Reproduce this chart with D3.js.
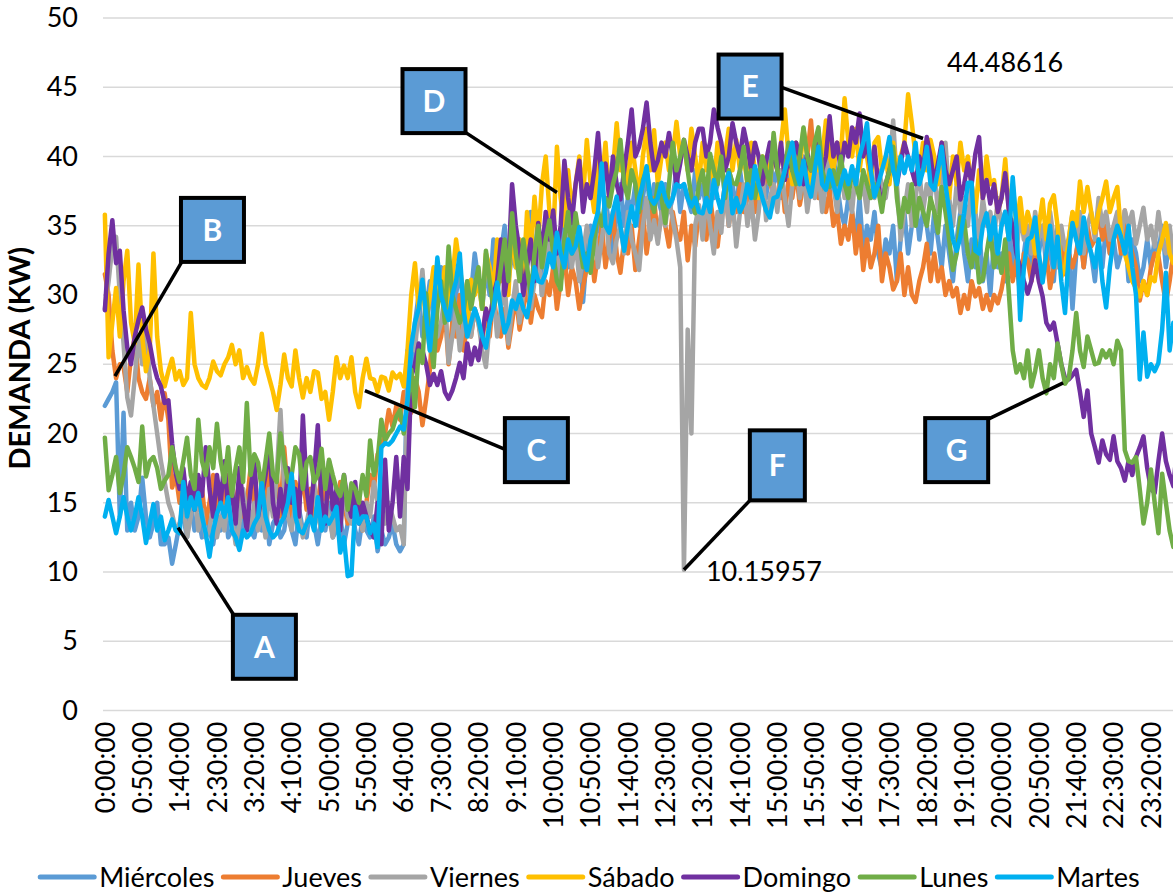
<!DOCTYPE html>
<html><head><meta charset="utf-8">
<script src="https://cdn.jsdelivr.net/npm/d3@7"></script>
<style>
body{margin:0;background:#fff}
svg{display:block}
text{font-family:Lato,"Open Sans",sans-serif}
</style>
</head><body>
<svg id="chart" width="1173" height="892"></svg>
<script>
// ---------- DATA ----------
const seriesNames = ["Miércoles","Jueves","Viernes","Sábado","Domingo","Lunes","Martes"];
const seriesColors = ["#5B9BD5","#ED7D31","#A5A5A5","#FFC000","#7030A0","#70AD47","#00B0F0"];
const yTicks = [0,5,10,15,20,25,30,35,40,45,50];
// categories: 5-minute steps over one day (288)
const times = d3.range(288).map(i => `${Math.floor(i*5/60)}:${String(i*5%60).padStart(2,"0")}:00`);
const labelEvery = 10;

const miercoles = [
22,22.5,23,23.7,14,21.5,13,15,13,14,
16.8,14,12.5,13.5,15,12,12,12.5,10.6,12,
13.5,14,12.5,15,13,14,12.5,14.5,13,12,
14,13,15.5,12.5,13,14,12,13.5,15,13,
12.5,14,13,15,12,13.5,14,12.5,13,15,
13,12,14.5,13,12.5,15,13.5,12,14,13,
15,12.5,13,14,12,13.5,15,13,12,14,
13,12.5,14,11.5,13,12,12.5,13.5,12,11.5,
12,26,24,28,30,27,29,31,28,30,
32,29,31,28,30,32,29,31,30,33,
31,29,32,30,34,31,33,35,31,33,
32,34,31,33,36,32,34,30,33,35,
34,31,33,36,32,35,33,34,29.5,33,
35,33,36,34,37,35,33,36,38,35,
37,36,38,35,37,39,36,38,37,36,
38,36,37,39,36,38,37,36,39,37,
38,36,39,37,38,40,37,39,38,36,
39,37,38,40,37,39,38,37,40,38,
39,37,40,38,39,41,38,40,37,39,
40,38,41,39,37,40,38,36,35,37,
36,34,37,33,35,34,36,33,31.8,34,
33,35,31,34,36,33,35,37,34,36,
35,33,36,34,32,35,33,31,34,36,
33,31,34,32,35,31,33,30,34,32,
33,31,35,32,34,30,33,35,32,34,
33,35,32,34,31,35,33,32,34,29,
33,35,32,34,33,31,34,32,35,33,
34,32,33,35,31,34,33,31,32,34,
32,34,33,35,32,34,33,34];

const jueves = [
31.5,30,26,24,25,24.8,23,25.5,27,24,
23,22.5,24,22,23,21,22.9,21,16.1,17,
15,16.5,14,15.5,17,14.5,16,13.5,15,17,
14,16,15,17,13.5,15,16.5,14,15,17.5,
15,13.5,16,14.5,18.4,15,17,14,19,15.5,
14,16.5,15,17,14.5,16,13.5,15,17,14,
16.5,15,14,16.5,15,13.5,16,14.5,15.5,13,
15,17,16,18.5,19,20,21.7,20.5,22,21,
23,22,21.5,24,23,20.6,22.5,24.6,28.9,26,
27,29,25,28,27,30,26,28,27,29,
28,26.5,29,27,30,28,27,29,26.2,28,
30,27.5,29,31,28,30,29,28.4,31,30,
32,29,31,33,30,32,31,29,30.6,32,
34,31,33,35,32,34,36,33,31.6,34,
33,35,31.8,34,36,33,35,37,34,36,
35,33.5,36,34.5,34,36,32.5,35,33.5,36,
35.4,34,37,35,33.5,36,38,35,37,36,
38,36,37,39,36,38,37,39,38.3,37,
37,39,36,38.3,37,39,36.5,38,40,42.6,
39,37,38,36,37.5,35,36.1,33.7,35,34,
36,33,35,31.8,34,32,33,35,31,33,
32,30.4,31,33,30,32,30,29.5,31,32,
33.7,31,33,31,32,30,31,29.9,30.5,28.7,
30,29,31,29.9,30.5,29,30,28.9,30,29.4,
30.4,32,33,31,32.5,30,33,32.5,31,33,
32,31.3,33,30.5,32,33,34,31.5,33,32,
33,34.5,32,35,33.5,34,36.1,34,35,33,
34,35,33,36.1,34,33,32,29.6,31,30,
32,33,32.8,31,29.4,31,33,31.5];

const viernes = [
29,31,33.5,34.2,30,26.5,22.6,21.3,24,27,
25,28,24,22,20,18,16.5,15,14.2,13,
13.5,15,12.5,14,16,13,14.5,12.5,13,15,
12.5,14,13,15.5,14,12,13.5,16,14,13,
15,13,14.5,12.5,16,14,17,21.7,16,14,
13,15,14,12.5,13.5,15,16.5,14,13,15,
14,12.5,14.5,13,16,14,13.5,15,14,13,
15,14,16.5,15,14,13.5,15,14,13,13.3,
12,24,27,26,29,31.8,28,26,29,27,
28,30,25.1,27,29,26,28,30,27,29,
28,26,24.8,28,30,27,29,31,26.5,29,
31,28,30,32,29,31,33,30,32,34,
32,34,31,33,35,32,34,31,33,35,
33,35,32,34,36,33,32.3,34,35,33,
36,34,33,31.8,35,37,34,35.4,33.7,36,
35,37,35.4,34,32,10.15957,27.5,20,35,36.5,
34,37,35,33,36,34.5,38,35,37,33.5,
36,38,35,37,34,36,39,35.4,37,38,
36,39,37,35,38,40,37,39,36,38,
37,39,36,38,40.7,38,36,39,37,38,
36,39,37,38,36,40,37,39,38,37,
39,42.6,38,34,36,38,35,37,39,36,
38,37,39,36,38,41,37,35,38,36,
37,35,38,36,34,37,35,36,34,37,
35,36,34,35.4,33,36,34,35,33,36,
34,35,33,36,34,32,35,33.3,34,35.9,
34,36,33,35,36,34,37,35,36,34,
35,36,34,36.1,35,36,33.7,35,36.3,34,
35,33.5,36,34,33,35,32.8,34];

const sabado = [
35.8,25.5,28,30.5,27,31,33.2,28,26.5,32.2,
27,24.5,26,33,27,24.5,23.4,24.5,25.4,23.9,
24.5,23.5,24,28.7,25,24,23.5,23.3,24,25.2,
24.5,24.2,25,25.5,26.4,25,26,24,24.8,24,
23.6,25,27.2,25,24,23,21.7,23.5,25.7,24,
23.4,26,24,22.6,24,23,24.5,24.4,22.5,23,
21,23,25.5,24,24.9,24,25.5,23,21.9,24,
25.4,24,23.9,23,24.1,24,23.1,24.4,24,24.3,
23.4,26,30,32.3,29,31,28,30,32,31,
30,32,29,31,34,32,30,28,31.1,30,
31,29,33,32,30,34,31,33,30,35,
32,34,31,36,33,37.1,34,38,40,36,
34,40.7,37,35,39,36,38,40,37,41.2,
38,36,40,38,41,37,39,42.4,39,40,
38,41,39,37,40,42,39,41.9,38,40,
41,39,40,42.5,40,41,39,42,40,38,
41,39,40,38,41,39,40,42,39,41.2,
39,40,38,41,39,37,40,39.7,38,41,
39,41,43.4,40,38,41,39,42,40,38,
41,39,40,42.6,40,39,41,40,44.2,41,
40,42,39,41,40,38,41,41.4,39,40,
38,41,39,40,41,44.48616,42.4,40,39,41,
39,41.2,40,38,41,39,37,40,38,41,
39,40,38,36,39,37,40,38,38.3,36,
37,39.8,36,38,35,37,34.5,36,35,33,
35,36.9,34,36.6,37.2,35,31.3,32,34,36,
35,38.2,36,37.8,36,34.5,36,37,38.2,36,
37,37.8,34.4,33,32,31,30.5,29.9,31,30,
31.3,31,33,34,35.2,33,32.3,33];

const domingo = [
28.9,33,35.4,32.3,33.2,28.9,26.2,25,27,28.2,
29.1,27.5,26.5,25,24,23.4,22.2,22.4,19.3,17.1,
16,17.5,15,16.5,14.5,17,15.5,19,16,14,
17,15,18,14.5,16,13.5,17.5,15,13,16,
18,14,15.5,17,19.3,15,13.5,16,14,17.5,
15,16,14,21.3,16,14,17,20.6,15,13.5,
18,14.5,16,13,17,15,14,16.5,13.5,15,
14,13,12.5,15,12,18.1,13,15,18.3,14,
18.3,16,24.1,25,26.5,26,25,23.5,24.3,23.5,
24.5,23,22.5,23.1,24,25.1,24,26.5,25,26.2,
25.3,27,29,28,30,31,34,30,32,38,
35,33.2,30,32,34,31,35.2,33,36,34,
36.1,33,35,39.7,37,35.2,38,39.7,36,38,
37,39,41.7,38,39.5,37,40,38,36.9,39,
41,43.4,40,40.7,42,43.9,41,39,39.7,41,
40,41.7,40,38,39.5,41.2,40,39,41,42,
42,40,41,43.4,42.1,41,39,40,42.4,41,
40,42,40.7,39,41,40,38,39.7,41,40,
39,41,38.3,40,39,41,40,38,40.2,39,
40.2,41,39,40,42.9,40,41,39,41,40,
42.1,41,43.1,40,41,39,40.7,38,36.4,38,
39,40,38,39.5,41,40,39,38,40,39,
41.4,40,38,39.5,41,39,38,39,40,36.9,
38,39.5,38,40.2,41.4,37,38.3,36.6,38,36,
37,38.8,36,34.9,33,32,31,30.1,31,32.5,
31,29.9,28,27.5,28,26.5,25,24,23.9,24.2,
24.6,23,21.2,23.1,20,19,17.9,19.5,18.5,18.1,
19.8,18,17.5,16.6,18,17,18.3,19,19.8,17.5,
16,15.7,18,20,18,17,16.2,19];

const lunes = [
19.7,15.9,17,18.3,15.7,17,19,18.3,17.5,16.5,
20.5,16.9,18,18.3,17.5,16,16.6,17,19,17.5,
16.5,18,19.7,17,16,21,18,17,19,17.5,
20.7,18,16.5,19,15.5,17.5,19,16.5,22.2,17,
18.5,17.9,16,18,20,17,16.5,20,18,16.5,
17,19,18.5,16,17.9,18.3,16.5,17,18.9,16,
18.1,17,16,15.5,17,14.5,16.4,16,15,17,
15.5,19.5,17,18.1,21,19.5,20,20.3,21.2,21.7,
20,22.2,24.6,21.9,26,25.1,30.1,27,24.8,29,
31,28,33.5,30,29,28,28.7,31,29,30.6,
32,29,33.2,31,29,30.1,32,34,31,35.9,
33,31,34,32,30,33,35,32,34,35.4,
33,31,30.4,34,36,33,35.9,34,32,33,
31.6,34,36,35,37,36.4,38,39,41.2,38,
37,39,38,36,38.3,39,37,36,38,37,
35.2,38,41,39,40,41.2,39,37,35.9,38,
39,37,40.2,39,38,40,37,39,38.1,38,
39,40.7,38,39,37,38.5,40,39,38,41.7,
39,37.8,39,41,39,38,40,42.1,40,39,
41,42.1,39,38,37.8,39,38,40,38,37,
39,38,37,39,38,37,38,37.6,36,38,
39,40.7,37,34.9,37,36,38,35,37,36,
35,37,36,34.5,37.8,36,34,31.8,33,35.6,
35.4,33,32,34,30.9,31.1,33,34.7,32,33,
31.6,34,30,26,24.4,25,24,26,23.4,24.5,
26,24,22.9,25,24,26.5,25,23.6,24,26,
28.7,26,24.8,27,26,25,25.1,26,25.5,26,
25,26.7,26,18.8,18,17.9,18.3,16,13.5,15,
17.4,15,12.8,17.1,15,13,11.8,13];

const martes = [
14,15.2,14,12.8,14,15.4,14,13,14,15.4,
14,12.1,13.5,14.9,13,14,12.3,13,13.8,13,
12.8,16.5,14,15.4,14.5,15.7,14,12.8,11.1,13,
14.2,15,14,15.4,13,12.5,11.6,13,12.5,12.8,
13.5,14,16.4,14,13,12.5,12.8,13.5,14,15,
17.1,14,13,12.8,13.5,14,13,15.4,13,14,
13.5,14,14.7,11.4,12.5,9.7,9.8,14.7,13.5,14,
14,12.8,13.5,11.8,19,19.3,19.2,19.5,20,20.5,
20.3,22.4,26.3,28,29,31.1,28.5,26,29,32.7,
30,29,28.2,30,31,33,29,27,28,29,
28.2,27,26.2,28,29,30.9,29,27.3,28,29.6,
29,30,29,28.4,30,32,31,30.9,31.6,33,
32,34.5,33,32,34,33,33.5,34.9,33,31.8,
34,35,36,39.5,35,34.5,36,37.1,35,33.2,
35,36.4,35,37,38,39.3,37,36.6,37,38.1,
37,36.4,37,38,37.8,38,37,36.4,37,36,
35.9,37,36,38.3,37,36,38,38.8,35.9,37,
36,36.6,38,37,39.3,38,37,36.1,35.6,37,
37.1,38,39,40,41,39,38,39.7,38,37.1,
39,40.7,38,37.6,39,38,37,38,39,38,
39.3,38,40,41,42.4,39,37.1,38,39,40,
41.4,39,38,40,38.8,40,39,41,38,39,
40.7,38,37.6,39,40.7,38,36,34,33.2,34.2,
35.9,38.1,38.1,33.2,33,35,35.9,34,35.6,33,
35,36,34,38.5,35,28.2,32,34,34.2,35.6,
33,30.9,33,35,32,34.2,31,28.7,33,35.2,
34,33,35.6,34,33,32,34,31,29.1,32,
34,35,34.2,33,35,32,30,23.9,27.3,24.1,
25,24.5,25.1,27.5,31.6,26,28,26];

const seriesValues = [miercoles, jueves, viernes, sabado, domingo, lunes, martes];

// Callouts (decoration): anchor in data space, box centre in data space
const callouts = [
  {letter:"A", ai:19.6,  av:13.2,  bi:42.7,  bv:4.6,   w:63, h:64, attach:"tl"},
  {letter:"B", ai:2.7,   av:24.15, bi:28.8,  bv:34.7,  w:63, h:64, attach:"bl"},
  {letter:"C", ai:69.6,  av:23.1,  bi:115.5, bv:18.8,  w:63, h:64, attach:"ml"},
  {letter:"D", ai:121,   av:37.4,  bi:88.1,  bv:44.0,  w:63, h:64, attach:"br"},
  {letter:"E", ai:219,   av:41.3,  bi:172.7, bv:45.05, w:63, h:64, attach:"mr"},
  {letter:"F", ai:155,   av:10.16, bi:180,   bv:17.7,  w:55, h:70, attach:"bl"},
  {letter:"G", ai:256.5, av:23.65, bi:228,   bv:18.8,  w:63, h:64, attach:"tr"}
];

// ---------- LAYOUT ----------
const svg = d3.select("#chart");
const plotLeft = 103, step = 3.736, plotTop = 18, plotBottom = 710.5;
const plotRight = plotLeft + step*times.length;

const x = d3.scaleBand().domain(d3.range(times.length)).range([plotLeft, plotRight]).padding(0);
const xc = i => x(0) + (i + 0.5) * x.step();     // centre of (possibly fractional) category
const y = d3.scaleLinear().domain([0, 50]).range([plotBottom, plotTop]);

// gridlines
svg.append("g").selectAll("line").data(yTicks).join("line")
  .attr("x1", plotLeft).attr("x2", plotRight)
  .attr("y1", d => y(d)).attr("y2", d => y(d))
  .attr("stroke", "#D9D9D9").attr("stroke-width", 1.6);

// y axis labels
const yAxis = d3.axisLeft(y).tickValues(yTicks).tickSize(0).tickPadding(0);
const gy = svg.append("g").attr("transform", `translate(${plotLeft-25},0)`).call(yAxis);
gy.select(".domain").remove();
gy.selectAll("text").attr("font-size", 27).attr("fill", "#000")
  .style("font-family", "Lato, sans-serif");

// x axis labels
const xAxis = d3.axisBottom(x)
  .tickValues(d3.range(0, times.length, labelEvery))
  .tickFormat(i => times[i]).tickSize(0);
const gx = svg.append("g").attr("transform", `translate(0,${plotBottom})`).call(xAxis);
gx.select(".domain").remove();
gx.selectAll("text")
  .attr("transform", "rotate(-90)")
  .attr("text-anchor", "end")
  .attr("x", -11).attr("y", 0).attr("dy", "0.36em")
  .attr("font-size", 27).attr("fill", "#000")
  .style("font-family", "Lato, sans-serif");

// y axis title
svg.append("text")
  .attr("transform", `translate(30,${(plotTop+plotBottom)/2 - 6}) rotate(-90)`)
  .attr("text-anchor", "middle")
  .attr("font-size", 29).attr("font-weight", "bold").attr("fill", "#000")
  .text("DEMANDA (KW)");

// series lines
const line = d3.line().x((d, i) => xc(i)).y(d => y(d));
svg.append("g").selectAll("path").data(seriesValues).join("path")
  .attr("d", d => line(d))
  .attr("fill", "none")
  .attr("stroke", (d, i) => seriesColors[i])
  .attr("stroke-width", 4.5)
  .attr("stroke-linejoin", "round")
  .attr("stroke-linecap", "round");

// data labels: Viernes minimum and Sábado maximum
const vMinIdx = d3.minIndex(viernes);
const sMaxIdx = d3.maxIndex(sabado);
svg.append("text").attr("x", xc(vMinIdx) + 22).attr("y", y(viernes[vMinIdx]) + 11)
  .attr("font-size", 27).attr("fill", "#000").text(String(viernes[vMinIdx]));
svg.append("text").attr("x", xc(sMaxIdx) + 39).attr("y", y(sabado[sMaxIdx]) - 22)
  .attr("font-size", 27).attr("fill", "#000").text(String(sabado[sMaxIdx]));

// callouts
const cg = svg.append("g");
callouts.forEach(c => {
  const cx = xc(c.bi), cy = y(c.bv);
  const left = cx - c.w/2, top = cy - c.h/2;
  const ax = xc(c.ai), ay = y(c.av);
  let px = cx, py = cy;
  if (c.attach[1] === "l") px = left + 2; else if (c.attach[1] === "r") px = left + c.w - 2;
  if (c.attach[0] === "t") py = top + 2; else if (c.attach[0] === "b") py = top + c.h - 2;
  cg.append("line").attr("x1", ax).attr("y1", ay).attr("x2", px).attr("y2", py)
    .attr("stroke", "#000").attr("stroke-width", 3.5);
  cg.append("rect").attr("x", left).attr("y", top).attr("width", c.w).attr("height", c.h)
    .attr("fill", "#5B9BD5").attr("stroke", "#000").attr("stroke-width", 4);
  cg.append("text").attr("x", cx).attr("y", cy).attr("dy", "0.36em")
    .attr("text-anchor", "middle").attr("font-size", 30).attr("font-weight", "bold")
    .attr("fill", "#fff").text(c.letter);
});

// legend
const lg = svg.append("g");
const items = seriesNames.map((n, i) => {
  const g = lg.append("g");
  g.append("line").attr("x1", 0).attr("x2", 54).attr("y1", 0).attr("y2", 0)
    .attr("stroke", seriesColors[i]).attr("stroke-width", 5).attr("stroke-linecap", "round");
  const t = g.append("text").attr("x", 59).attr("y", 0).attr("dy", "0.36em")
    .attr("font-size", 27).attr("fill", "#000").text(n);
  return {g, w: 59 + t.node().getComputedTextLength()};
});
const gap = 9;
const total = d3.sum(items, d => d.w) + gap * (items.length - 1);
let cur = 590 - total/2;
items.forEach(it => { it.g.attr("transform", `translate(${cur},877)`); cur += it.w + gap; });
</script>
</body></html>
